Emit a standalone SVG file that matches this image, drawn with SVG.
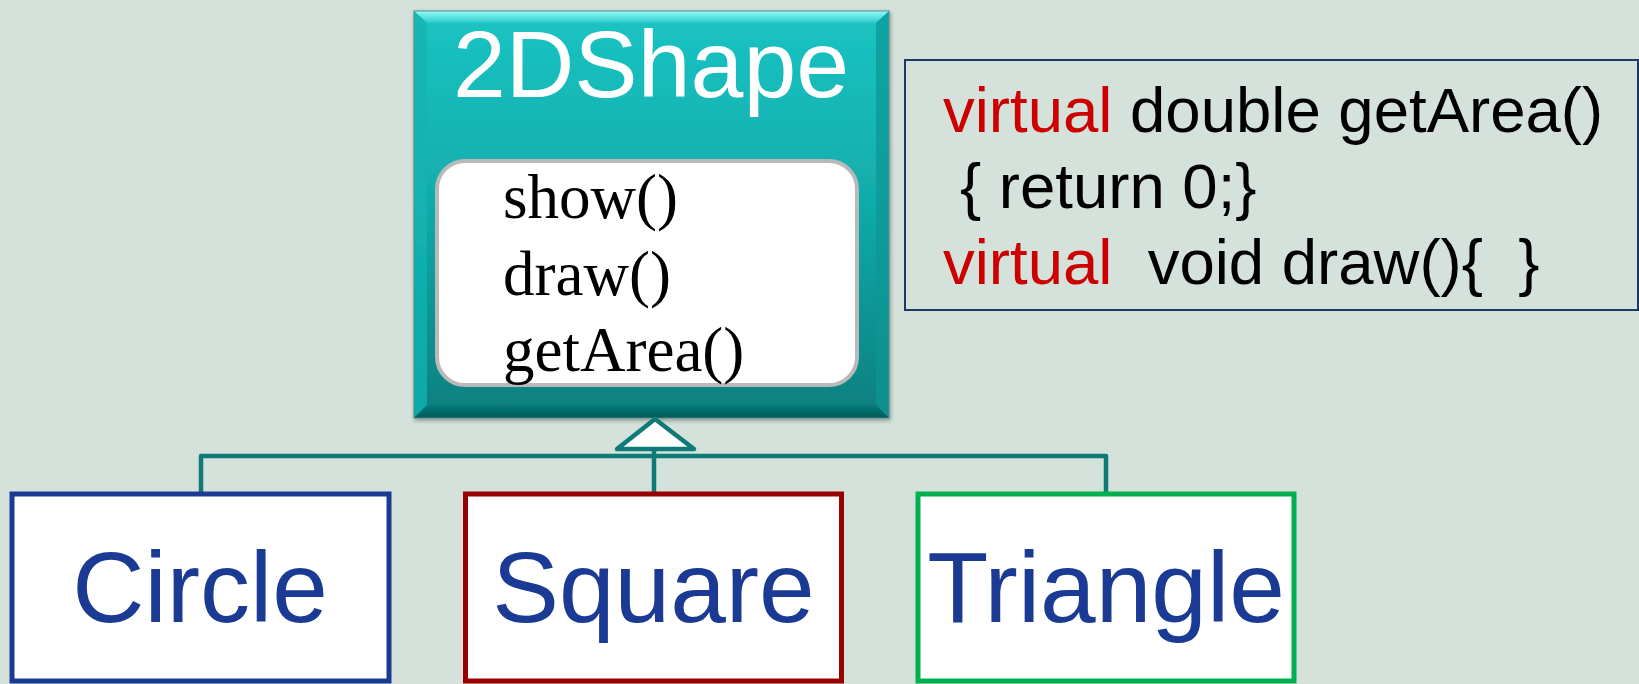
<svg xmlns="http://www.w3.org/2000/svg" width="1639" height="684" viewBox="0 0 1639 684">
  <style>
    .title { font-family: "Liberation Sans", Arial, sans-serif; font-size: 95px; fill: #ffffff; text-anchor: middle; }
    .method { font-family: "Liberation Serif", "Times New Roman", serif; font-size: 63px; fill: #000000; }
    .code { font-family: "Liberation Sans", Arial, sans-serif; font-size: 63.5px; fill: #000000; }
    .kw { fill: #cc0000; }
    .cls { font-family: "Liberation Sans", Arial, sans-serif; font-size: 100px; fill: #1a3a94; text-anchor: middle; }
    .clsbox { fill: #ffffff; stroke-width: 5; }
    .link { fill: none; stroke: #0f7b78; stroke-width: 4.5; stroke-linejoin: round; }
  </style>
  <defs>
    <linearGradient id="tealFill" x1="0" y1="0" x2="0" y2="1">
      <stop offset="0" stop-color="#1bc4c3"/>
      <stop offset="0.45" stop-color="#11adac"/>
      <stop offset="1" stop-color="#077f7e"/>
    </linearGradient>
    <linearGradient id="bevelTop" x1="0" y1="0" x2="0" y2="1">
      <stop offset="0" stop-color="#9ffcfb"/>
      <stop offset="1" stop-color="#2ccccb"/>
    </linearGradient>
    <linearGradient id="bevelBottom" x1="0" y1="0" x2="0" y2="1">
      <stop offset="0" stop-color="#077c7b"/>
      <stop offset="1" stop-color="#045a59"/>
    </linearGradient>
    <filter id="softShadow" x="-5%" y="-5%" width="110%" height="110%">
      <feGaussianBlur in="SourceAlpha" stdDeviation="2"/>
      <feOffset dx="1" dy="2"/>
      <feComponentTransfer><feFuncA type="linear" slope="0.35"/></feComponentTransfer>
      <feMerge><feMergeNode/><feMergeNode in="SourceGraphic"/></feMerge>
    </filter>
  </defs>

  <!-- background -->
  <rect x="0" y="0" width="1639" height="684" fill="#d4e2db"/>

  <!-- base class with its member list -->
  <g id="node-2dshape" filter="url(#softShadow)">
    <rect x="414" y="11" width="475" height="407" fill="url(#tealFill)" stroke="#5f8f8c" stroke-width="1.2"/>
    <!-- bevel edges -->
    <polygon points="414.5,11.5 888.5,11.5 876,23 427,23" fill="url(#bevelTop)" opacity="0.9"/>
    <polygon points="414.5,11.5 427,23 427,405 414.5,417.5" fill="#13b3b2" opacity="0.8"/>
    <polygon points="888.5,11.5 876,23 876,405 888.5,417.5" fill="#0a9594" opacity="0.7"/>
    <polygon points="414.5,417.5 427,405 876,405 888.5,417.5" fill="url(#bevelBottom)"/>
    <text class="title" x="651" y="97">2DShape</text>
    <rect x="437" y="161" width="420" height="224" rx="28" ry="28" fill="#ffffff" stroke="#b9b9b9" stroke-width="4"/>
    <text class="method" x="503" y="218">show()</text>
    <text class="method" x="503" y="295">draw()</text>
    <text class="method" x="503" y="371">getArea()</text>
  </g>

  <!-- virtual member definitions -->
  <g id="node-code">
    <rect x="905" y="60" width="733" height="250" fill="none" stroke="#1f3864" stroke-width="2"/>
    <text class="code" x="943" y="132" xml:space="preserve"><tspan class="kw">virtual</tspan> double getArea()</text>
    <text class="code" x="960" y="208" xml:space="preserve">{ return 0;}</text>
    <text class="code" x="943" y="284" xml:space="preserve"><tspan class="kw">virtual</tspan>  void draw(){  }</text>
  </g>

  <!-- inheritance connectors -->
  <g id="connectors">
    <polyline class="link" points="201,494 201,456 1106,456 1106,494"/>
    <line class="link" x1="654" y1="449" x2="654" y2="494"/>
    <polygon points="655,419 617,449 694,449" fill="#ffffff" stroke="#0f7b78" stroke-width="4.5" stroke-linejoin="round"/>
  </g>

  <!-- derived classes -->
  <g id="node-circle">
    <rect class="clsbox" x="12" y="494" width="377" height="187" stroke="#1a3a94"/>
    <text class="cls" x="200" y="622">Circle</text>
  </g>
  <g id="node-square">
    <rect class="clsbox" x="465.5" y="494" width="376" height="187" stroke="#990000"/>
    <text class="cls" x="653.5" y="622">Square</text>
  </g>
  <g id="node-triangle">
    <rect class="clsbox" x="918" y="494" width="376" height="187" stroke="#00b050"/>
    <text class="cls" x="1106" y="622">Triangle</text>
  </g>
</svg>
